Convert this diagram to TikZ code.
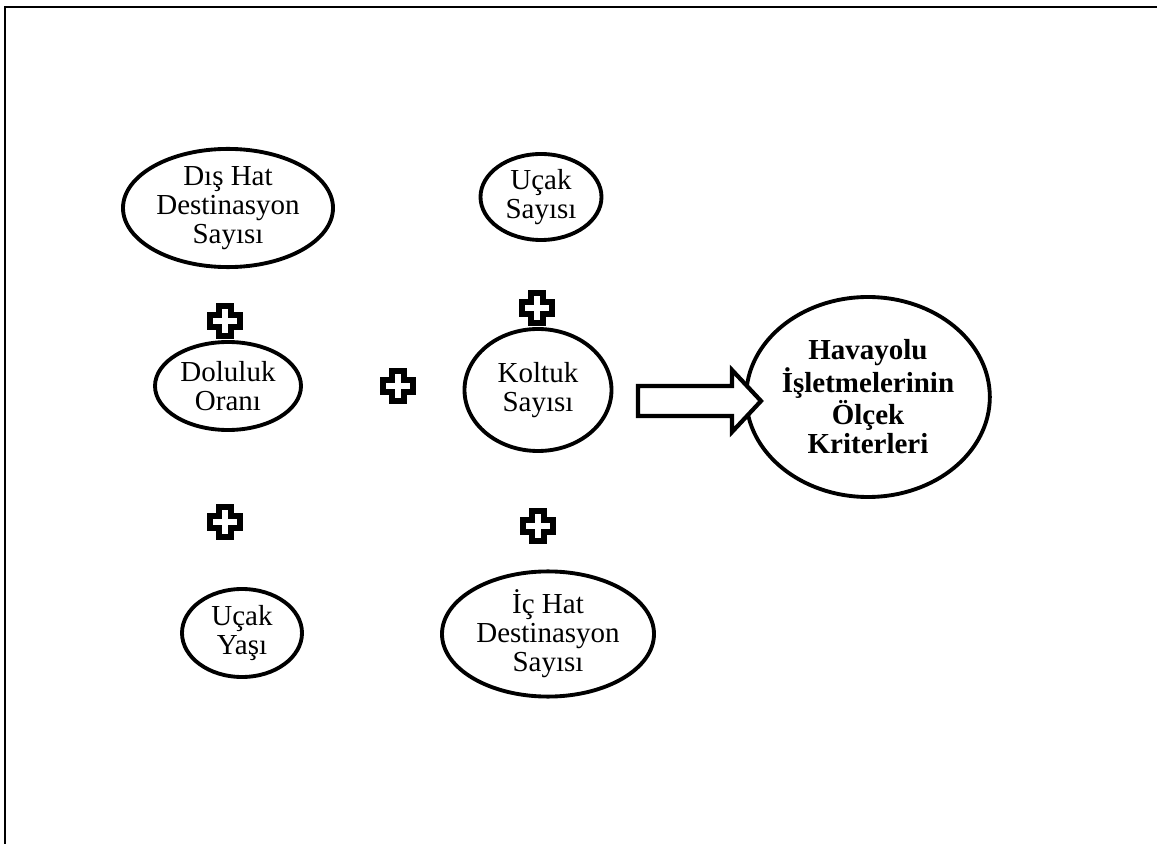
\documentclass[tikz,border=0pt]{standalone}
\usepackage{fontspec}
\setmainfont{Liberation Serif}
\usetikzlibrary{shapes.geometric}
\tikzset{
  ell/.style={draw, line width=2.2pt, ellipse, inner sep=0pt, align=center,
    font=\fontsize{16.5}{16.6}\selectfont},
  sz/.style 2 args={minimum width=#1*0.02cm, minimum height=#2*0.02cm},
  plusmark/.style={draw, line width=3pt, fill=white, line join=miter},
  bigarrow/.style={draw, line width=2.4pt, fill=white, line join=miter},
  frame/.style={draw, line width=1.7pt}
}
\newcommand{\plusat}[2]{%
  \draw[plusmark] (#1-6,#2-15) -- (#1+6,#2-15) -- (#1+6,#2-6) -- (#1+15,#2-6) -- (#1+15,#2+6)
    -- (#1+6,#2+6) -- (#1+6,#2+15) -- (#1-6,#2+15) -- (#1-6,#2+6) -- (#1-15,#2+6)
    -- (#1-15,#2-6) -- (#1-6,#2-6) -- cycle;}
\begin{document}
\begin{tikzpicture}[x=0.02cm, y=-0.02cm]
\useasboundingbox (0,0) rectangle (1157,844);
\draw[frame] (5,850) -- (5,7) -- (1160,7);

\node[ell, sz={210}{98}] (dis) at (228,208) {Dış Hat\\Destinasyon\\Sayısı};
\node[ell, sz={121}{86}] (ucak) at (541,197) {Uçak\\Sayısı};
\node[ell, sz={146}{88}] (dol) at (228,386) {Doluluk\\Oranı};
\node[ell, sz={147}{122}] (kol) at (538,390) {Koltuk\\Sayısı};
\node[ell, sz={120}{88}] (yas) at (242,633) {Uçak\\Yaşı};
\node[ell, sz={212}{98}] (ic) at (548,634) {İç Hat\\Destinasyon\\Sayısı};
\node[ell, sz={206}{200}, font=\fontsize{16.5}{16.6}\selectfont\bfseries] (hav) at (868,397)
  {Havayolu\\İşletmelerinin\\Ölçek\\Kriterleri};

\plusat{225}{321}
\plusat{537}{308}
\plusat{398}{386}
\plusat{225}{522}
\plusat{538}{526}

\draw[bigarrow] (638,386) -- (732,386) -- (732,370) -- (761,401) -- (732,432) -- (732,416) -- (638,416) -- cycle;
\end{tikzpicture}
\end{document}
